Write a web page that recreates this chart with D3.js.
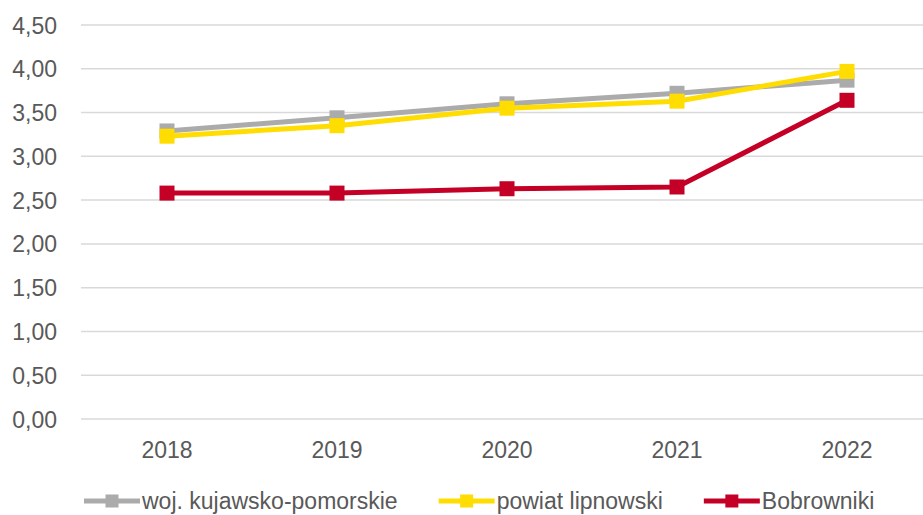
<!DOCTYPE html>
<html>
<head>
<meta charset="utf-8">
<script src="https://cdn.jsdelivr.net/npm/d3@7"></script>
<style>
  body { margin: 0; background: #fff; }
  svg text { font-family: "Liberation Sans", Arial, sans-serif; fill: #595959; }
</style>
</head>
<body>
<svg id="chart"></svg>
<script>
const years = ["2018", "2019", "2020", "2021", "2022"];
const yTicks = [0, 0.5, 1, 1.5, 2, 2.5, 3, 3.5, 4, 4.5];
const seriesNames = ["woj. kujawsko-pomorskie", "powiat lipnowski", "Bobrowniki"];
const seriesColors = ["#ABABAB", "#FFDD00", "#C40026"];
const wojValues = [3.29, 3.44, 3.60, 3.72, 3.87];
const powiatValues = [3.23, 3.35, 3.55, 3.63, 3.97];
const gminaValues = [2.58, 2.58, 2.63, 2.65, 3.64];

const width = 923, height = 515;
const margin = { top: 25, right: -9, bottom: 96, left: 82 };
const fontSize = 23;

const svg = d3.select("#chart").attr("width", width).attr("height", height);

const x = d3.scaleBand().domain(years).range([margin.left, width - margin.right]);
const y = d3.scaleLinear().domain([0, 4.5]).range([height - margin.bottom, margin.top]);

// grid lines
svg.append("g")
  .selectAll("line")
  .data(yTicks)
  .enter().append("line")
  .attr("x1", margin.left - 1).attr("x2", width)
  .attr("y1", d => y(d)).attr("y2", d => y(d))
  .attr("stroke", "#D9D9D9").attr("stroke-width", 1.5);

// y axis labels
const fmt = d => d.toFixed(2).replace(".", ",");
const yAxis = svg.append("g")
  .attr("transform", "translate(57,0)")
  .call(d3.axisLeft(y).tickValues(yTicks).tickFormat(fmt).tickSize(0).tickPadding(0));
yAxis.select(".domain").remove();
yAxis.selectAll("text").attr("dy", "0.35em");

// x axis labels
const xAxis = svg.append("g")
  .attr("transform", "translate(0,458)")
  .call(d3.axisBottom(x).tickSize(0));
xAxis.select(".domain").remove();
xAxis.selectAll("text").attr("y", 0).attr("dy", 0);

svg.selectAll(".tick text")
  .attr("font-size", fontSize)
  .style("fill", "#595959")
  .style("font-family", "\"Liberation Sans\", Arial, sans-serif");

const allSeries = [wojValues, powiatValues, gminaValues];
const line = d3.line()
  .x((d, i) => x(years[i]) + x.bandwidth() / 2)
  .y(d => y(d));

allSeries.forEach((vals, s) => {
  svg.append("path")
    .datum(vals)
    .attr("fill", "none")
    .attr("stroke", seriesColors[s])
    .attr("stroke-width", 5)
    .attr("stroke-linejoin", "round")
    .attr("d", line);
  svg.append("g")
    .selectAll("rect")
    .data(vals)
    .enter().append("rect")
    .attr("x", (d, i) => x(years[i]) + x.bandwidth() / 2 - 7.5)
    .attr("y", d => y(d) - 7.5)
    .attr("width", 15).attr("height", 15)
    .attr("fill", seriesColors[s]);
});

// legend
const legend = svg.append("g");
let lx = 84;
seriesNames.forEach((name, s) => {
  const g = legend.append("g").attr("transform", "translate(" + lx + ",501)");
  g.append("line").attr("x1", 0).attr("x2", 56).attr("y1", 0).attr("y2", 0)
    .attr("stroke", seriesColors[s]).attr("stroke-width", 5);
  g.append("rect").attr("x", 21.5).attr("y", -6.5).attr("width", 13).attr("height", 13)
    .attr("fill", seriesColors[s]);
  const t = g.append("text").attr("x", 58).attr("y", 8)
    .attr("font-size", fontSize).text(name);
  lx += 58 + t.node().getComputedTextLength() + 41;
});
</script>
</body>
</html>
